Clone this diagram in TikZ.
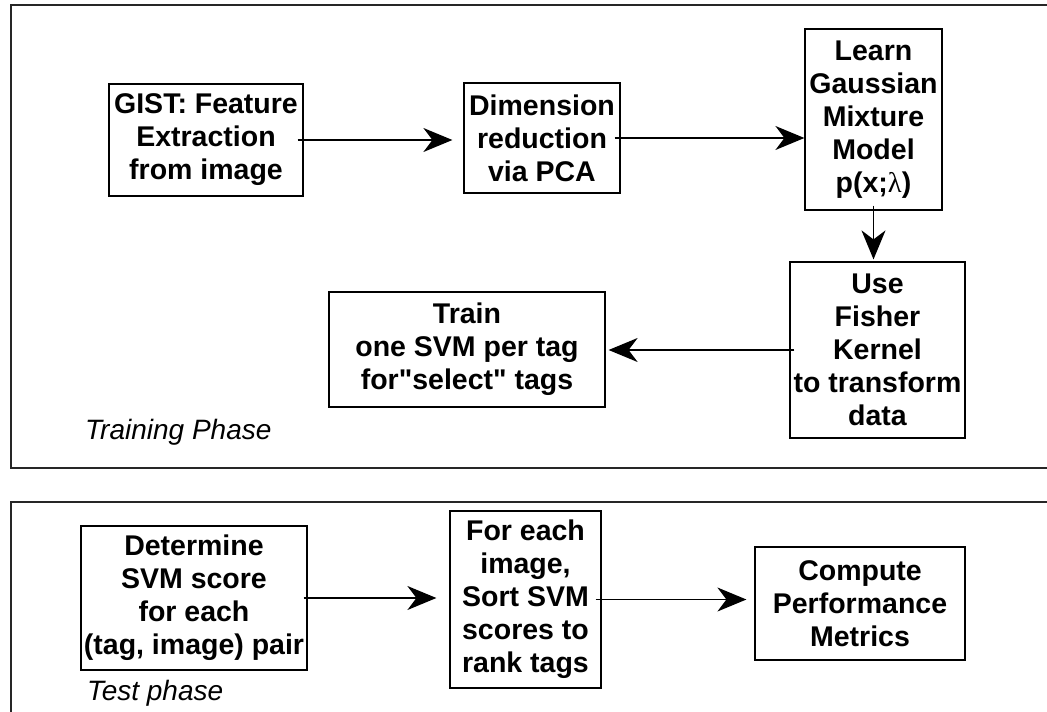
\documentclass[tikz,border=0pt]{standalone}
\usepackage{fontspec}
\setmainfont{Liberation Sans}[Ligatures=TeXOff]
\newfontfamily\lamfont{Liberation Serif}
\usetikzlibrary{arrows.meta}
\tikzset{
  stepbox/.style={draw=black, line width=1.2pt, inner sep=0pt, align=center,
    font=\fontsize{28.5}{33}\selectfont\bfseries},
  phaselbl/.style={anchor=west, inner sep=0pt, font=\fontsize{28}{33}\selectfont\itshape},
  frame/.style={draw=black!85, line width=1.3pt},
  arr/.style={line width=1.4pt, -{Stealth[length=29pt, width=24pt, inset=9pt]}}
}
\begin{document}
\begin{tikzpicture}[x=1pt, y=-1pt]
\useasboundingbox (0,0) rectangle (1047,712);
\clip (0,0) rectangle (1047,712);
% frames
\draw[frame] (11,5) rectangle (1070,468);
\draw[frame] (11,502) rectangle (1070,730);
% training phase
\node[stepbox, minimum width=194pt, minimum height=112pt] (gist) at (206,140) {GIST: Feature\\Extraction\\from image};
\node[stepbox, minimum width=156pt, minimum height=110pt] (dim) at (542,138) {Dimension\\reduction\\via PCA};
\node[stepbox, minimum width=137pt, minimum height=181pt] (gmm) at (873.5,119.5) {Learn\\Gaussian\\Mixture\\Model\\p(x;{\lamfont\mdseries λ})};
\node[stepbox, minimum width=175pt, minimum height=176pt] (fisher) at (877.5,350) {Use\\Fisher\\Kernel\\to transform\\data};
\node[stepbox, minimum width=276pt, minimum height=115pt] (train) at (467,349.5) {Train\\one SVM per tag\\for"select" tags};
\node[phaselbl] (trainlbl) at (85,432) {Training Phase};
% test phase
\node[stepbox, minimum width=226pt, minimum height=144pt] (det) at (194,598) {Determine\\SVM score\\for each\\(tag, image) pair};
\node[stepbox, minimum width=151pt, minimum height=177pt] (sort) at (525.5,599.5) {For each\\image,\\Sort SVM\\scores to\\rank tags};
\node[stepbox, minimum width=210pt, minimum height=113pt] (comp) at (860,603.5) {Compute\\Performance\\Metrics};
\node[phaselbl] (testlbl) at (87,693) {Test phase};
% connectors
\draw[arr] ([xshift=-6pt]gist.east) -- ([xshift=-11pt]gist.east -| dim.west);
\draw[arr] ([xshift=-6pt]dim.east) -- (dim.east -| gmm.west);
\draw[arr] ([yshift=5pt]gmm.south) -- ([yshift=2pt]fisher.north -| gmm.south);
\draw[arr] ([xshift=5pt]fisher.west) -- ([xshift=3pt]fisher.west -| train.east);
\draw[arr] ([xshift=-4pt]det.east) -- ([xshift=-13pt]det.east -| sort.west);
\draw[arr] ([xshift=-6pt]sort.east) -- ([xshift=-8pt]sort.east -| comp.west);
\end{tikzpicture}
\end{document}
